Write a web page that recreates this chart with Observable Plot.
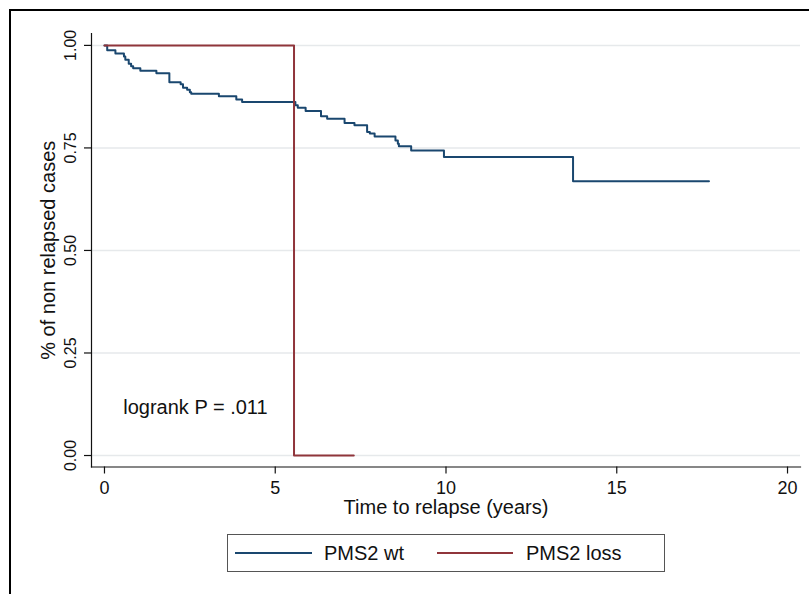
<!DOCTYPE html>
<html>
<head>
<meta charset="utf-8">
<script src="https://cdn.jsdelivr.net/npm/d3@7"></script>
<script src="https://cdn.jsdelivr.net/npm/@observablehq/plot@0.6"></script>
<style>
  html, body { margin: 0; padding: 0; background: #fff; overflow: hidden; }
  #page { position: relative; width: 809px; height: 594px; overflow: hidden; background: #fff;
          font-family: "Liberation Sans", Arial, sans-serif; color: #111; }
  #frame { position: absolute; left: 9px; top: 9px; width: 900px; height: 700px; border: 2px solid #000; box-sizing: border-box; }
  #chart { position: absolute; left: 0; top: 0; }
  #legend { position: absolute; left: 227px; top: 534px; width: 438px; height: 38px; border: 1px solid #555;
            box-sizing: border-box; background: #fff; }
  .sw { position: absolute; height: 2px; top: 17px; }
  .lt { position: absolute; top: 6px; font-size: 20px; line-height: 24px; white-space: nowrap; }
</style>
</head>
<body>
<div id="page">
  <div id="frame"></div>
  <div id="chart"></div>
  <div id="legend"></div>
</div>
<script>
// ---- data ----
const seriesNames = ["PMS2 wt", "PMS2 loss"];
const seriesColors = ["#1a476f", "#90353b"];

const wtTime = [0, 0.08, 0.32, 0.57, 0.61, 0.71, 0.78, 0.84, 1.05, 1.52, 1.90, 2.23, 2.30, 2.42, 2.50, 2.54,
                3.35, 3.86, 4.03, 5.59, 5.66, 5.89, 6.34, 6.52, 7.03, 7.32, 7.69, 7.77, 7.91, 8.52, 8.59,
                8.62, 8.98, 9.94, 13.72, 17.70];
const wtSurv = [1.000, 0.988, 0.980, 0.973, 0.965, 0.955, 0.949, 0.944, 0.938, 0.932, 0.910, 0.905, 0.897,
                0.892, 0.886, 0.882, 0.876, 0.868, 0.862, 0.854, 0.848, 0.840, 0.827, 0.821, 0.811, 0.805,
                0.789, 0.785, 0.778, 0.768, 0.760, 0.754, 0.744, 0.728, 0.669, 0.669];

const lossTime = [0, 5.55, 7.30];
const lossSurv = [1, 0, 0];

const xTicks = [0, 5, 10, 15, 20];
const yTicks = [0, 0.25, 0.5, 0.75, 1];
const yTickLabels = ["0.00", "0.25", "0.50", "0.75", "1.00"];

const xTitle = "Time to relapse (years)";
const yTitle = "% of non relapsed cases";
const annotation = "logrank P = .011";

// ---- build table ----
const rows = [
  ...wtTime.map((t, i) => ({t, s: wtSurv[i], g: seriesNames[0]})),
  ...lossTime.map((t, i) => ({t, s: lossSurv[i], g: seriesNames[1]}))
];

const chart = Plot.plot({
  width: 809,
  height: 530,
  marginLeft: 91,
  marginRight: 9,
  marginTop: 33,
  marginBottom: 63.5,
  style: { fontFamily: "'Liberation Sans', Arial, sans-serif", color: "#111", background: "transparent" },
  x: { domain: [-0.38, 20.38] },
  y: { domain: [-0.028, 1.029] },
  color: { domain: seriesNames, range: seriesColors },
  marks: [
    Plot.gridY(yTicks, { stroke: "#e6e9eb", strokeOpacity: 1, strokeWidth: 1.5 }),
    Plot.frame({ anchor: "left", stroke: "#111", strokeWidth: 1.2 }),
    Plot.frame({ anchor: "bottom", stroke: "#111", strokeWidth: 1.2 }),
    Plot.axisY({ ticks: yTicks, tickSize: 7, tickFormat: () => "", label: null, strokeWidth: 1.2 }),
    Plot.text(yTicks, { y: d => d, text: (d, i) => yTickLabels[i], frameAnchor: "left", dx: -21,
                        rotate: -90, textAnchor: "middle", lineAnchor: "middle", fontSize: 16, fill: "#111" }),
    Plot.axisX({ ticks: xTicks, tickSize: 7, tickPadding: 7, label: null, tickFormat: d => String(d),
                 fontSize: 18, strokeWidth: 1.2 }),
    Plot.text([xTitle], { frameAnchor: "bottom", dy: 41, textAnchor: "middle", lineAnchor: "middle", fontSize: 20, fill: "#111" }),
    Plot.text([yTitle], { frameAnchor: "left", dx: -43, rotate: -90, textAnchor: "middle", lineAnchor: "middle", fontSize: 20, fill: "#111" }),
    Plot.text([annotation], { x: 0.55, y: 0.117, textAnchor: "start", lineAnchor: "middle", fontSize: 20, fill: "#111" }),
    Plot.line(rows, { x: "t", y: "s", z: "g", stroke: "g", curve: "step-after", strokeWidth: 2 })
  ]
});
document.getElementById("chart").appendChild(chart);

// ---- legend ----
const legend = document.getElementById("legend");
const legendPos = [{sw: 7, tx: 96, w: 77}, {sw: 209, tx: 298, w: 76}];
seriesNames.forEach((name, i) => {
  const sw = document.createElement("div");
  sw.className = "sw";
  sw.style.left = legendPos[i].sw + "px";
  sw.style.width = legendPos[i].w + "px";
  sw.style.background = seriesColors[i];
  legend.appendChild(sw);
  const tx = document.createElement("div");
  tx.className = "lt";
  tx.style.left = legendPos[i].tx + "px";
  tx.textContent = name;
  legend.appendChild(tx);
});
</script>
</body>
</html>
